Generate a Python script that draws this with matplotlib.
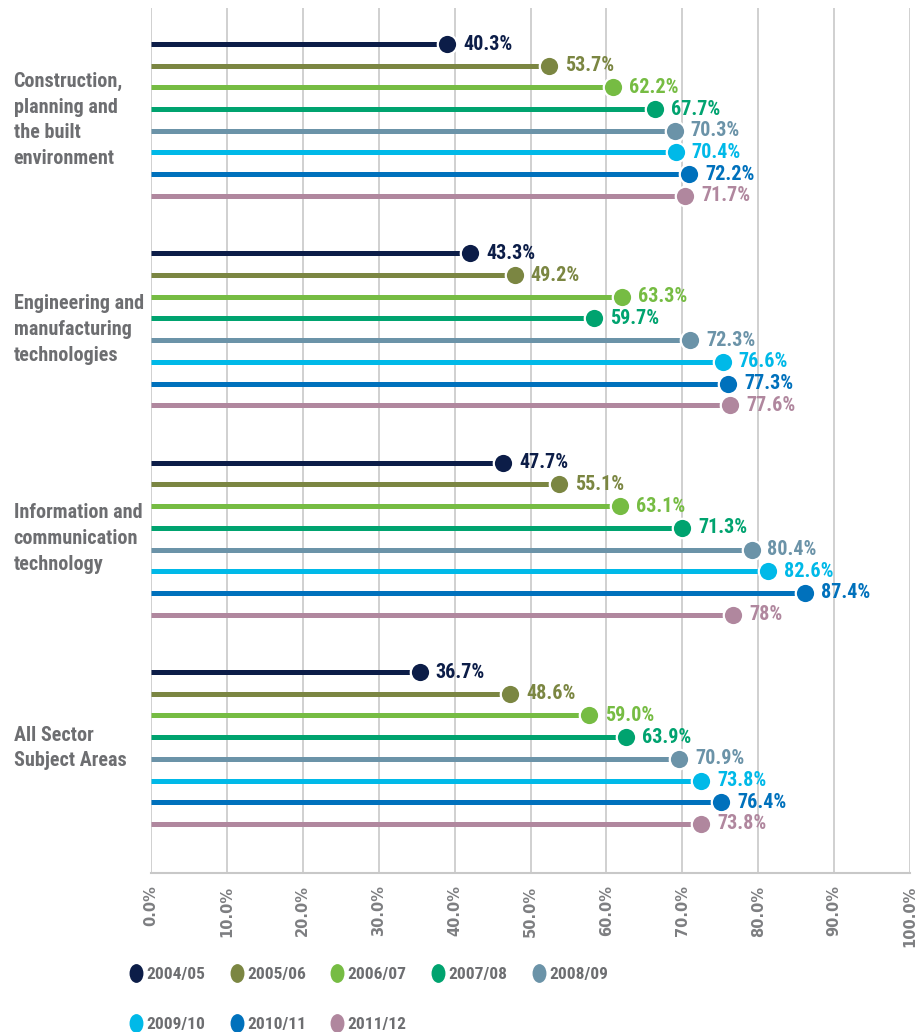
import matplotlib
matplotlib.use("Agg")
import matplotlib.pyplot as plt
from matplotlib import font_manager
from matplotlib.lines import Line2D
from matplotlib.markers import MarkerStyle
from matplotlib.transforms import Affine2D, offset_copy

# pick a condensed bold face if one is installed
installed = {f.name for f in font_manager.fontManager.ttflist}
NARROW = next((n for n in ["Liberation Sans Narrow", "DejaVu Sans Condensed", "Roboto Condensed"]
               if n in installed), "DejaVu Sans")

categories = [
    "Construction,\nplanning and\nthe built\nenvironment",
    "Engineering and\nmanufacturing\ntechnologies",
    "Information and\ncommunication\ntechnology",
    "All Sector\nSubject Areas",
]
years = ["2004/05", "2005/06", "2006/07", "2007/08",
         "2008/09", "2009/10", "2010/11", "2011/12"]
colors = ["#0c1d48", "#7b8642", "#76bc43", "#00a36f",
          "#6b93a8", "#00b9e8", "#0071bc", "#b0879e"]

construction = [40.3, 53.7, 62.2, 67.7, 70.3, 70.4, 72.2, 71.7]
engineering = [43.3, 49.2, 63.3, 59.7, 72.3, 76.6, 77.3, 77.6]
ict = [47.7, 55.1, 63.1, 71.3, 80.4, 82.6, 87.4, 78.0]
all_sectors = [36.7, 48.6, 59.0, 63.9, 70.9, 73.8, 76.4, 73.8]

construction_lbl = ["40.3%", "53.7%", "62.2%", "67.7%", "70.3%", "70.4%", "72.2%", "71.7%"]
engineering_lbl = ["43.3%", "49.2%", "63.3%", "59.7%", "72.3%", "76.6%", "77.3%", "77.6%"]
ict_lbl = ["47.7%", "55.1%", "63.1%", "71.3%", "80.4%", "82.6%", "87.4%", "78%"]
all_sectors_lbl = ["36.7%", "48.6%", "59.0%", "63.9%", "70.9%", "73.8%", "76.4%", "73.8%"]

xticks = [0, 10, 20, 30, 40, 50, 60, 70, 80, 90, 100]

values = [construction, engineering, ict, all_sectors]
labels = [construction_lbl, engineering_lbl, ict_lbl, all_sectors_lbl]

GROUP_STEP = 9.65
LABEL_GRAY = "#6d6e71"
DOT = 14.0  # marker size, points

fig = plt.figure(figsize=(9.22, 10.32), dpi=100)
ax = fig.add_axes([151 / 922, 1 - 873 / 1032, (910 - 151) / 922, 865 / 1032])

# dot sits so its right edge lands on the value; text follows it
dot_trans = offset_copy(ax.transData, fig=fig, x=-DOT / 2, y=0, units="points")
txt_trans = offset_copy(ax.transData, fig=fig, x=4.5, y=0, units="points")

for g, (vals, lbls) in enumerate(zip(values, labels)):
    for i, (v, lab) in enumerate(zip(vals, lbls)):
        y = g * GROUP_STEP + i
        ax.plot([0, v], [y, y], color=colors[i], lw=3.6, solid_capstyle="butt", zorder=2)
        ax.plot(v, y, "o", ms=DOT, color=colors[i], mec="white", mew=1.6,
                transform=dot_trans, zorder=3)
        ax.text(v, y, lab, transform=txt_trans, color=colors[i], ha="left", va="center",
                fontsize=14.5, fontweight="bold", family=[NARROW, "DejaVu Sans"])
    ax.text(-0.181, g * GROUP_STEP + 3.5, categories[g], transform=ax.get_yaxis_transform(),
            ha="left", va="center", fontsize=14.5, fontweight="bold", color=LABEL_GRAY,
            linespacing=1.45, family=[NARROW, "DejaVu Sans"])

ax.set_xlim(0, 100)
ax.set_ylim(3 * GROUP_STEP + 7 + 2.26, -1.66)
ax.set_xticks(xticks)
ax.set_xticklabels([f"{t:.1f}%" for t in xticks], rotation=90, fontsize=10.5,
                   fontweight="bold", color="#7d7e81", family="DejaVu Sans")
ax.tick_params(axis="x", length=0, pad=9)
ax.set_yticks([])
ax.grid(axis="x", color="#c8c8c8", lw=1.2)
ax.set_axisbelow(True)
for side in ["top", "right", "left"]:
    ax.spines[side].set_visible(False)
ax.spines["bottom"].set_color("#c8c8c8")
ax.spines["bottom"].set_linewidth(1.5)

# legend reads row by row: 5 on top, 3 below
order = [0, 5, 1, 6, 2, 7, 3, 4]
oval = MarkerStyle("o", transform=Affine2D().scale(0.72, 1.0))
handles = [Line2D([], [], ls="none", marker=oval, ms=12.5, color=colors[k]) for k in order]
fig.legend(handles, [years[k] for k in order], loc="upper left",
           bbox_to_anchor=(130 / 922, 1 - 967 / 1032),
           ncol=5, frameon=False, borderpad=0, borderaxespad=0, handlelength=0.7,
           handletextpad=0.25, columnspacing=1.45, labelspacing=2.0,
           prop={"family": [NARROW, "DejaVu Sans"], "size": 12.5, "weight": "bold"},
           labelcolor=LABEL_GRAY)

fig.savefig("out.png", dpi=100)
